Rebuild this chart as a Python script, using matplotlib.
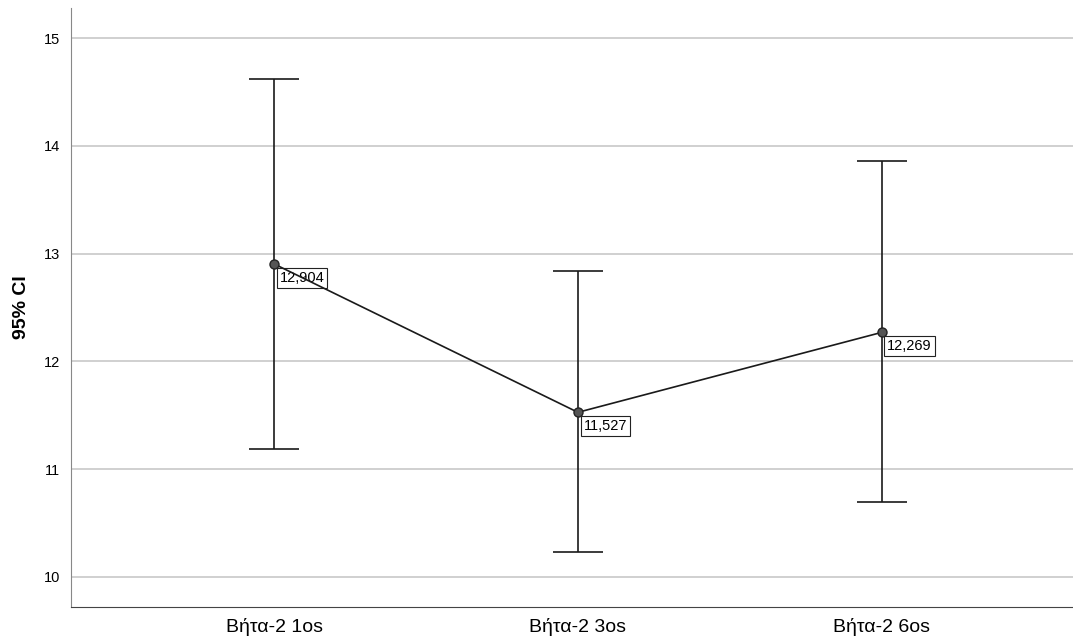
import matplotlib
matplotlib.use('Agg')
import matplotlib.pyplot as plt
import numpy as np

plt.rcParams['font.family'] = ['Liberation Sans', 'DejaVu Sans']

groups = ['Βήτα-2 1os', 'Βήτα-2 3os', 'Βήτα-2 6os']
means = [12.904, 11.527, 12.269]
ci_low = [11.19, 10.23, 10.69]
ci_high = [14.62, 12.84, 13.86]
mean_labels = ['12,904', '11,527', '12,269']

fig = plt.figure(figsize=(10.73, 6.41), dpi=100)
ax = fig.add_axes([71 / 1073, 1 - 607 / 641, 1 - 71 / 1073, 599 / 641])

x = np.arange(len(groups))
means = np.array(means)
yerr = [means - np.array(ci_low), np.array(ci_high) - means]

ax.errorbar(x, means, yerr=yerr, fmt='none', ecolor='#1a1a1a', elinewidth=1.2,
            capsize=18, capthick=1.2, zorder=4)
ax.plot(x, means, color='#1a1a1a', lw=1.2, marker='o', markersize=6.5,
        markerfacecolor='#555555', markeredgecolor='#222222', zorder=5)

for xi, yi, lab in zip(x, means, mean_labels):
    ax.annotate(lab, (xi, yi), xytext=(4, -5), textcoords='offset points',
                ha='left', va='top', fontsize=10.5,
                bbox=dict(boxstyle='square,pad=0.2', fc='white', ec='#222222', lw=0.8),
                zorder=3)

ax.set_xlim(-0.669, 2.63)
ax.set_ylim(9.72, 15.28)
ax.set_yticks([10, 11, 12, 13, 14, 15])
ax.set_xticks(x)
ax.set_xticklabels(groups, fontsize=14)
ax.tick_params(axis='y', labelsize=10.5, length=0, pad=8)
ax.tick_params(axis='x', length=0, pad=8)
ax.yaxis.grid(True, color='#c8c8c8', lw=1.2)
ax.set_axisbelow(True)
for s in ['top', 'right']:
    ax.spines[s].set_visible(False)
ax.spines['left'].set_color('#888888')
ax.spines['bottom'].set_color('#444444')
ax.set_ylabel('95% CI', fontsize=14, fontweight='bold', labelpad=10)

plt.savefig('out.png', dpi=100)
